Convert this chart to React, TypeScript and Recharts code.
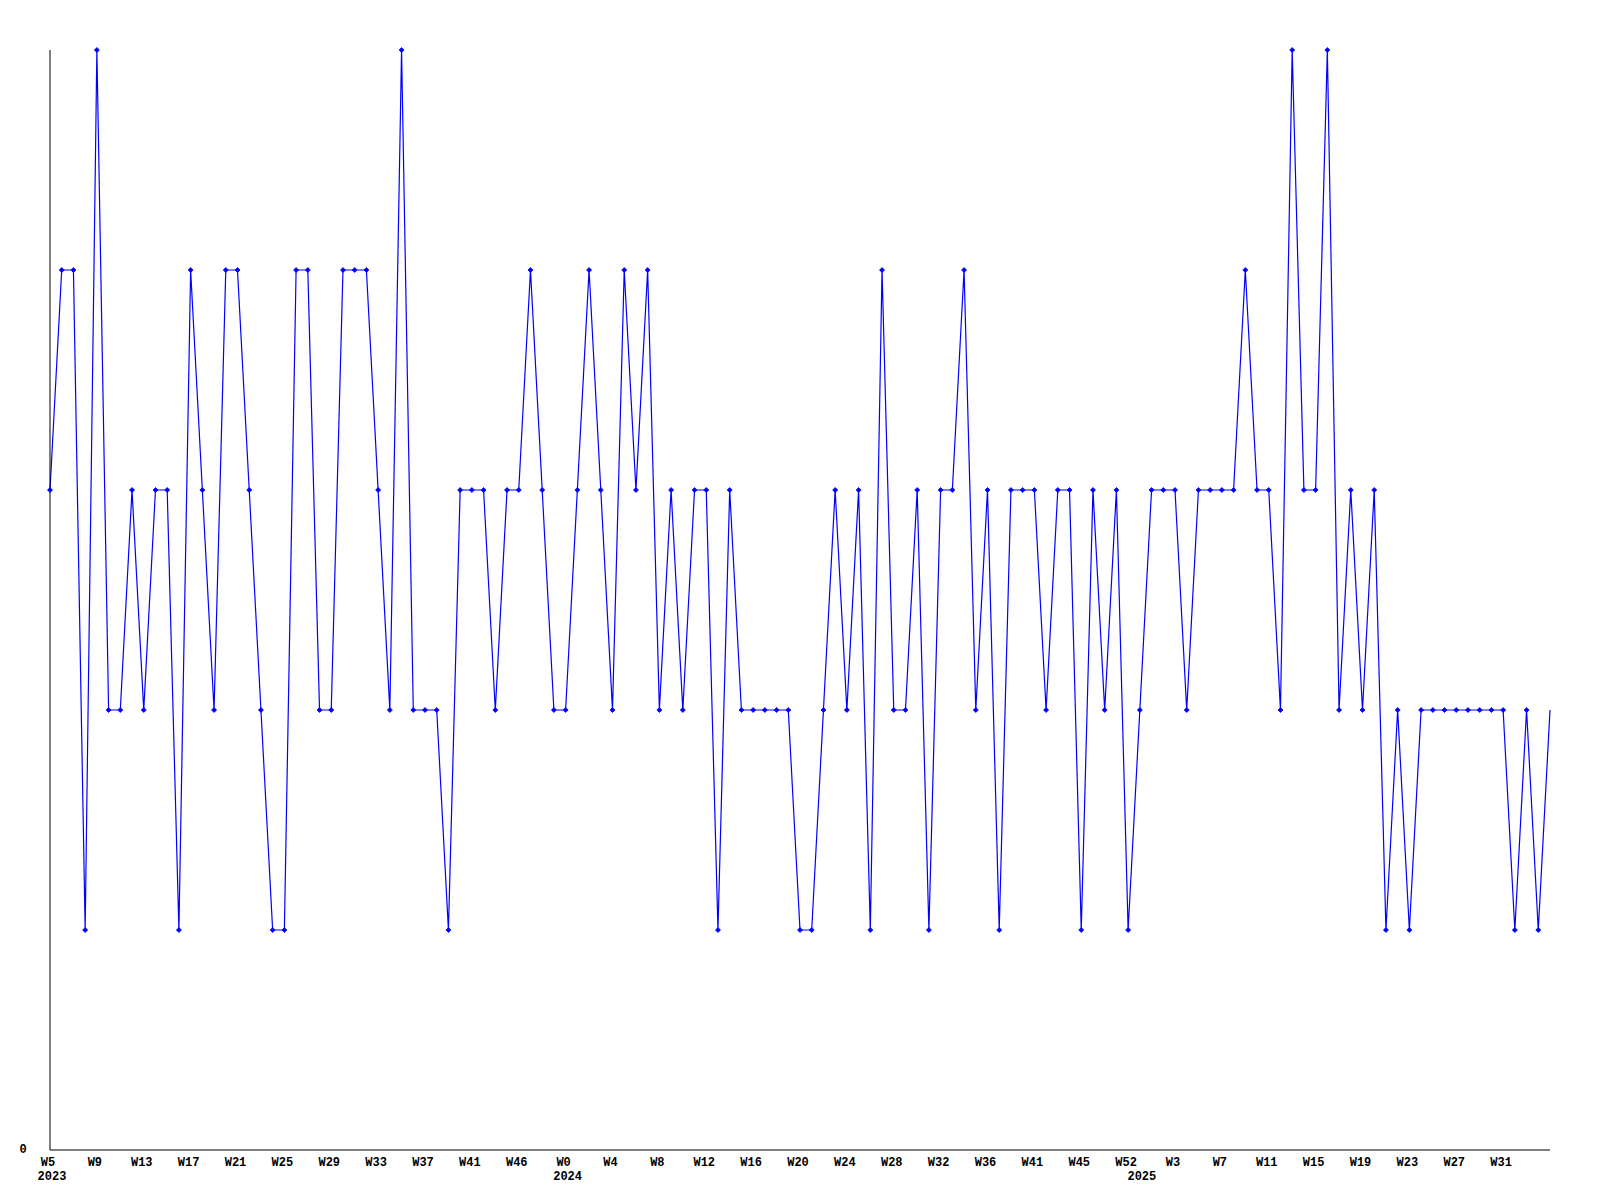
import { LineChart, Line, XAxis, YAxis } from 'recharts';

// one entry per plotted week, oldest first
const weeks: string[] = [
  '2023-W5', '2023-W6', '2023-W7', '2023-W8', '2023-W9', '2023-W10', '2023-W11', '2023-W12',
  '2023-W13', '2023-W14', '2023-W15', '2023-W16', '2023-W17', '2023-W18', '2023-W19', '2023-W20',
  '2023-W21', '2023-W22', '2023-W23', '2023-W24', '2023-W25', '2023-W26', '2023-W27', '2023-W28',
  '2023-W29', '2023-W30', '2023-W31', '2023-W32', '2023-W33', '2023-W34', '2023-W35', '2023-W36',
  '2023-W37', '2023-W38', '2023-W39', '2023-W40', '2023-W41', '2023-W42', '2023-W43', '2023-W44',
  '2023-W46', '2023-W48', '2023-W50', '2023-W52',
  '2024-W0', '2024-W1', '2024-W2', '2024-W3', '2024-W4', '2024-W5', '2024-W6', '2024-W7',
  '2024-W8', '2024-W9', '2024-W10', '2024-W11', '2024-W12', '2024-W13', '2024-W14', '2024-W15',
  '2024-W16', '2024-W17', '2024-W18', '2024-W19', '2024-W20', '2024-W21', '2024-W22', '2024-W23',
  '2024-W24', '2024-W25', '2024-W26', '2024-W27', '2024-W28', '2024-W29', '2024-W30', '2024-W31',
  '2024-W32', '2024-W33', '2024-W34', '2024-W35', '2024-W36', '2024-W37', '2024-W38', '2024-W39',
  '2024-W41', '2024-W42', '2024-W43', '2024-W44', '2024-W45', '2024-W47', '2024-W49', '2024-W51',
  '2024-W52',
  '2025-W0', '2025-W1', '2025-W2', '2025-W3', '2025-W4', '2025-W5', '2025-W6', '2025-W7',
  '2025-W8', '2025-W9', '2025-W10', '2025-W11', '2025-W12', '2025-W13', '2025-W14', '2025-W15',
  '2025-W16', '2025-W17', '2025-W18', '2025-W19', '2025-W20', '2025-W21', '2025-W22', '2025-W23',
  '2025-W24', '2025-W25', '2025-W26', '2025-W27', '2025-W28', '2025-W29', '2025-W30', '2025-W31',
  '2025-W32', '2025-W33', '2025-W34', '2025-W35',
];

const counts: number[] = [
  3, 4, 4, 1, 5, 2, 2, 3, 2, 3, 3, 1, 4, 3, 2, 4,
  4, 3, 2, 1, 1, 4, 4, 2, 2, 4, 4, 4, 3, 2, 5, 2,
  2, 2, 1, 3, 3, 3, 2, 3, 3, 4, 3, 2, 2, 3, 4, 3,
  2, 4, 3, 4, 2, 3, 2, 3, 3, 1, 3, 2, 2, 2, 2, 2,
  1, 1, 2, 3, 2, 3, 1, 4, 2, 2, 3, 1, 3, 3, 4, 2,
  3, 1, 3, 3, 3, 2, 3, 3, 1, 3, 2, 3, 1, 2, 3, 3,
  3, 2, 3, 3, 3, 3, 4, 3, 3, 2, 5, 3, 3, 5, 2, 3,
  2, 3, 1, 2, 1, 2, 2, 2, 2, 2, 2, 2, 2, 1, 2, 1,
  2,
];

const yTicks = [0];
const labelEvery = 4;

const FONT = '"Liberation Mono", "DejaVu Sans Mono", monospace';

const chartData = weeks.map((w, i) => ({ week: w, count: counts[i] }));

function WeekTick(props: any) {
  const { payload, index } = props;
  const i = typeof index === 'number' ? index : payload.index;
  const [year, wk] = String(payload.value).split('-');
  const prevYear = i > 0 ? weeks[i - 1].split('-')[0] : '';
  const x = payload.coordinate;
  // the last category gets no week label in the original
  const showWeek = i % labelEvery === 0 && i < weeks.length - 1;
  return (
    <g>
      {showWeek && (
        <text x={x - 2} y={1163} textAnchor="middle" dominantBaseline="central"
          fontFamily={FONT} fontSize={12} fontWeight="bold" fill="#000">
          {wk}
        </text>
      )}
      {year !== prevYear && (
        <text x={x + 2} y={1177} textAnchor="middle" dominantBaseline="central"
          fontFamily={FONT} fontSize={12} fontWeight="bold" fill="#000">
          {year}
        </text>
      )}
    </g>
  );
}

function CountTick(props: any) {
  const { payload } = props;
  return (
    <text x={23} y={payload.coordinate} textAnchor="middle" dominantBaseline="central"
      fontFamily={FONT} fontSize={12} fontWeight="bold" fill="#000">
      {payload.value}
    </text>
  );
}

function Marker(props: any) {
  const { cx, cy, index } = props;
  if (index === counts.length - 1) return <g key={index} />;
  return (
    <path key={index}
      d={`M${cx - 2.5},${cy} L${cx},${cy - 2.5} L${cx + 2.5},${cy} L${cx},${cy + 2.5} Z`}
      fill="#0000ff" stroke="#0000ff" strokeWidth={0.8} />
  );
}

export default function App() {
  return (
    <div style={{ position: 'absolute', left: 0, top: 0, width: 1600, height: 1200, background: '#fff' }}>
      <LineChart width={1600} height={1200} data={chartData}
        margin={{ top: 50, right: 50, bottom: 0, left: 0 }}>
        <XAxis dataKey="week" interval={0} height={50} tickLine={false}
          axisLine={{ stroke: '#000', strokeWidth: 1 }} tick={<WeekTick />} />
        <YAxis domain={[0, 5]} ticks={yTicks} width={50} tickLine={false}
          axisLine={{ stroke: '#000', strokeWidth: 1 }} tick={<CountTick />} />
        <Line type="linear" dataKey="count" stroke="#0000ff" strokeWidth={1.2}
          dot={<Marker />} activeDot={false} isAnimationActive={false} />
      </LineChart>
    </div>
  );
}
